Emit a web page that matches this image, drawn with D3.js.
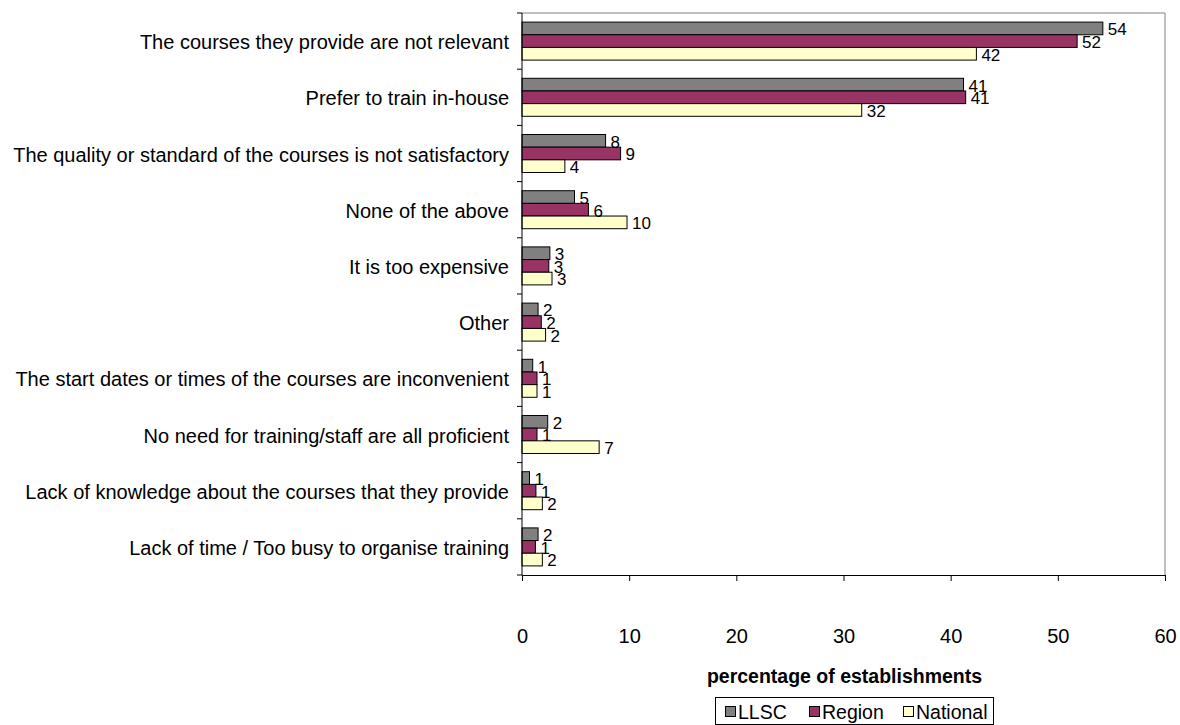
<!DOCTYPE html>
<html>
<head>
<meta charset="utf-8">
<script src="https://cdn.jsdelivr.net/npm/d3@7"></script>
<style>
  html, body { margin: 0; padding: 0; background: #fff; }
  svg { display: block; font-family: "Liberation Sans", Arial, sans-serif; }
</style>
</head>
<body>
<svg id="chart" width="1180" height="725"></svg>
<script>
const categories = [
  "The courses they provide are not relevant",
  "Prefer to train in-house",
  "The quality or standard of the courses is not satisfactory",
  "None of the above",
  "It is too expensive",
  "Other",
  "The start dates or times of the courses are inconvenient",
  "No need for training/staff are all proficient",
  "Lack of knowledge about the courses that they provide",
  "Lack of time / Too busy to organise training"
];
const seriesNames = ["LLSC", "Region", "National"];
const llsc     = [54.2, 41.2, 7.8, 4.9, 2.6, 1.5, 1.0, 2.4, 0.7, 1.5];
const region   = [51.8, 41.4, 9.2, 6.2, 2.5, 1.8, 1.4, 1.4, 1.3, 1.25];
const national = [42.4, 31.7, 4.0, 9.8, 2.8, 2.2, 1.4, 7.2, 1.9, 1.9];
const seriesColors = ["#808080", "#993366", "#FFFFCC"];
const xTicks = [0, 10, 20, 30, 40, 50, 60];
const xTitle = "percentage of establishments";

const seriesValues = [llsc, region, national];
const svg = d3.select("#chart");

const plot = { left: 522, right: 1165, top: 13, bottom: 575 };

const x = d3.scaleLinear().domain([0, 60]).range([plot.left, plot.right]);
const y = d3.scaleBand().domain(categories).range([plot.top, plot.bottom])
  .paddingInner(0.324).paddingOuter(0.162);
const ys = d3.scaleBand().domain(seriesNames).range([0, y.bandwidth()]);

// plot area border (top & right gray)
svg.append("path")
  .attr("d", `M${plot.left},${plot.top}H${plot.right}V${plot.bottom}`)
  .attr("fill", "none").attr("stroke", "#808080").attr("stroke-width", 1);

// bars
const groups = svg.append("g").selectAll("g")
  .data(categories).join("g")
  .attr("transform", d => `translate(0,${y(d)})`);

groups.each(function(cat, ci) {
  const g = d3.select(this);
  seriesNames.forEach((s, si) => {
    const v = seriesValues[si][ci];
    g.append("rect")
      .attr("x", x(0))
      .attr("y", ys(s))
      .attr("width", x(v) - x(0))
      .attr("height", ys.bandwidth())
      .attr("fill", seriesColors[si])
      .attr("stroke", "#000")
      .attr("stroke-width", 1);
  });
  seriesNames.forEach((s, si) => {
    const v = seriesValues[si][ci];
    g.append("text")
      .attr("x", x(v) + 5)
      .attr("y", ys(s) + ys.bandwidth() / 2 + 1)
      .attr("dy", "0.35em")
      .attr("font-size", 17)
      .attr("fill", "#000")
      .text(Math.round(v));
  });
});

// y axis
const yAxisG = svg.append("g");
yAxisG.append("line")
  .attr("x1", plot.left).attr("x2", plot.left)
  .attr("y1", plot.top).attr("y2", plot.bottom)
  .attr("stroke", "#000");
const step = y.step();
d3.range(categories.length + 1).forEach(i => {
  const yy = plot.top + i * step;
  yAxisG.append("line")
    .attr("x1", plot.left - 5).attr("x2", plot.left)
    .attr("y1", yy).attr("y2", yy).attr("stroke", "#000");
});
yAxisG.selectAll("text.cat").data(categories).join("text")
  .attr("class", "cat")
  .attr("x", plot.left - 13)
  .attr("y", d => y(d) + y.bandwidth() / 2 + 1)
  .attr("dy", "0.35em")
  .attr("text-anchor", "end")
  .attr("font-size", 20)
  .attr("fill", "#000")
  .text(d => d);

// x axis
const xAxis = d3.axisBottom(x).tickValues(xTicks).tickSize(6).tickPadding(48)
  .tickFormat(d3.format("d"));
const xg = svg.append("g").attr("transform", `translate(0,${plot.bottom})`).call(xAxis);
xg.select(".domain").attr("stroke", "#000");
xg.selectAll(".tick line").attr("stroke", "#000");
xg.selectAll(".tick text").attr("font-size", 20).attr("fill", "#000")
  .attr("font-family", "'Liberation Sans', Arial, sans-serif");

svg.append("text")
  .attr("x", (plot.left + plot.right) / 2 + 1)
  .attr("y", 683)
  .attr("text-anchor", "middle")
  .attr("font-size", 19.5)
  .attr("font-weight", "bold")
  .text(xTitle);

// legend
const lg = svg.append("g");
lg.append("rect").attr("x", 715.5).attr("y", 697.5).attr("width", 278).attr("height", 27)
  .attr("fill", "#fff").attr("stroke", "#000");
const legendX = [725, 809, 903];
seriesNames.forEach((s, i) => {
  lg.append("rect").attr("x", legendX[i] + 0.5).attr("y", 706.5).attr("width", 10).attr("height", 10)
    .attr("fill", seriesColors[i]).attr("stroke", "#000");
  lg.append("text").attr("x", legendX[i] + 13).attr("y", 712).attr("dy", "0.35em")
    .attr("font-size", 19.5).text(s);
});
</script>
</body>
</html>
